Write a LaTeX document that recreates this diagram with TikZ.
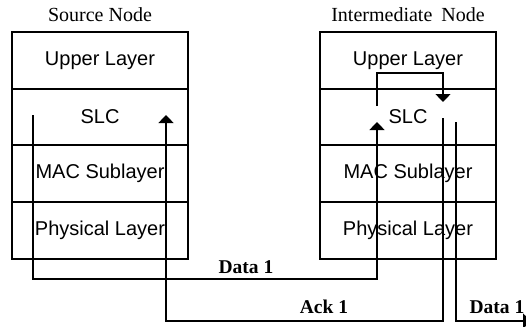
\documentclass[tikz,border=0pt]{standalone}
\usepackage{fontspec}
\setmainfont{Liberation Serif}
\setsansfont{Liberation Sans}
\usetikzlibrary{arrows.meta}
\tikzset{
  layer/.style={draw, line width=1.3pt, minimum width=176pt, minimum height=56.75pt,
    inner sep=0pt, font=\sffamily\fontsize{20}{20}\selectfont},
  title/.style={font=\fontsize{20}{20}\selectfont, inner sep=0pt},
  msg/.style={font=\bfseries\fontsize{19.5}{19.5}\selectfont, inner sep=0pt},
  flow/.style={line width=1.3pt, -{Triangle[width=15pt,length=8pt]}},
}
\begin{document}
\begin{tikzpicture}[x=1pt,y=-1pt]
\useasboundingbox (0,0) rectangle (526,326);
% source node stack
\node[title] (stitle) at (100,15) {Source Node};
\node[layer] (su) at (100,60.5) {Upper Layer};
\node[layer] (ss) at (100,117) {SLC};
\node[layer] (sm) at (100,173.5) {MAC Sublayer};
\node[layer] (sp) at (100,230.5) {Physical Layer};
% intermediate node stack
\node[title] (ititle) at (408,15) {Intermediate\hspace{0.45em}Node};
\node[layer] (iu) at (408,60.5) {Upper Layer};
\node[layer] (is) at (408,117) {SLC};
\node[layer] (im) at (408,173.5) {MAC Sublayer};
\node[layer] (ip) at (408,230.5) {Physical Layer};
% end points of the message paths
\coordinate (sdown) at (33,115);
\coordinate (sup) at (166,115);
\coordinate (iup) at (377,122);
\coordinate (ifwd) at (377,106);
\coordinate (iin) at (443,102);
\coordinate (iack) at (443,118);
\coordinate (iout) at (456,122);
\coordinate (onward) at (531,321);
% Data 1: source -> intermediate
\draw[flow] (sdown) -- ++(0,164) -| (iup);
% forwarding inside the intermediate node
\draw[flow] (ifwd) -- ++(0,-33) -| (iin);
% Ack 1: intermediate -> source
\draw[flow] (iack) -- ++(0,203) -| (sup);
% Data 1 onward
\draw[flow] (iout) |- (onward);
% message labels
\node[msg] (d1) at (246,267) {Data 1};
\node[msg] (a1) at (324,307) {Ack 1};
\node[msg] (d2) at (497,307) {Data 1};
\end{tikzpicture}
\end{document}
